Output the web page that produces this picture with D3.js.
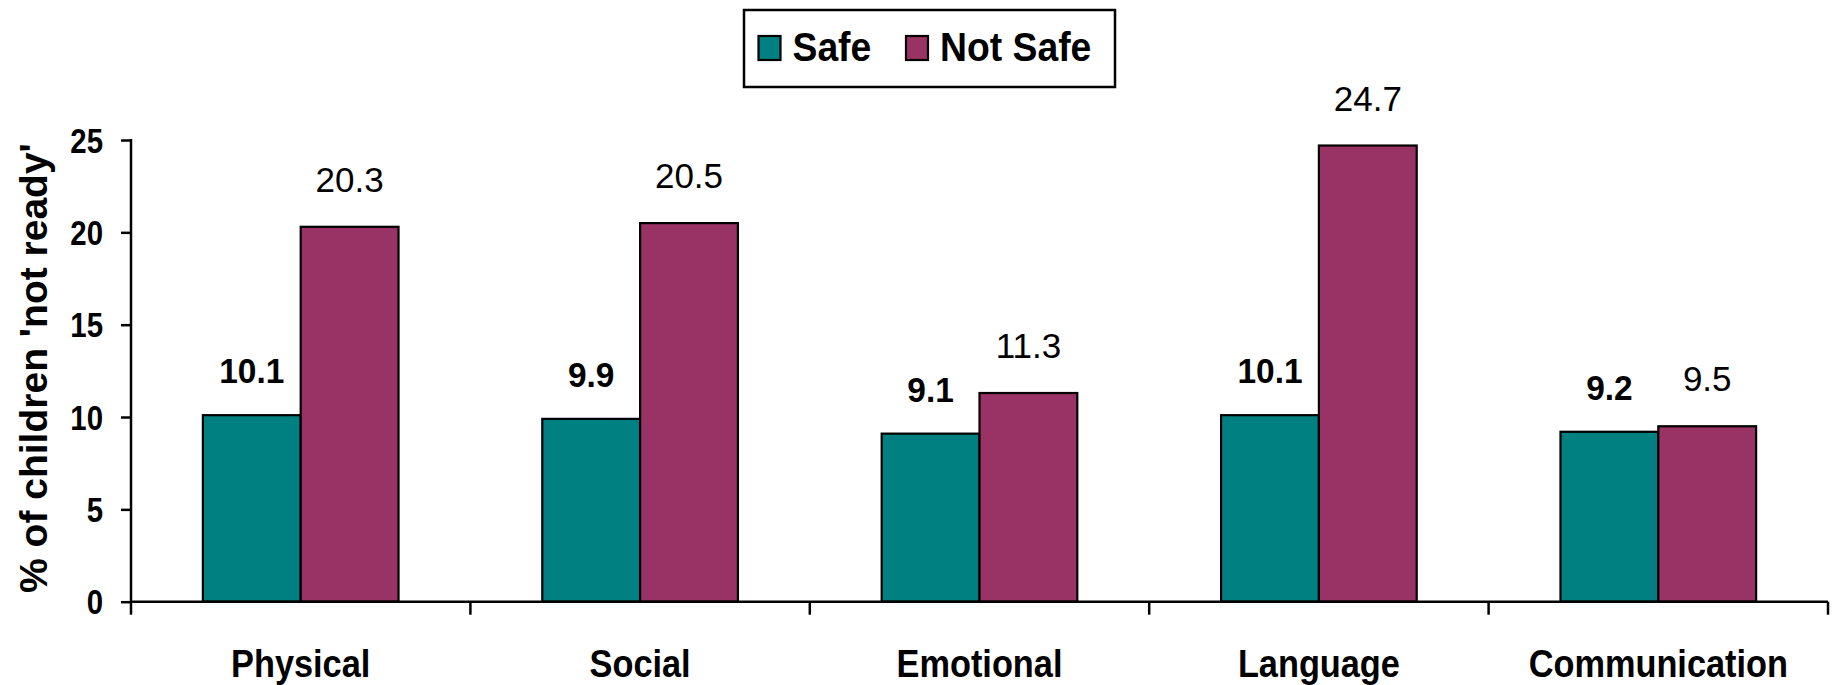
<!DOCTYPE html>
<html>
<head>
<meta charset="utf-8">
<script src="https://cdn.jsdelivr.net/npm/d3@7"></script>
<style>
    body { margin: 0; background: #fff; }
    svg { display: block; }
    text { font-family: "Liberation Sans", Arial, sans-serif; fill: #000; }
</style>
</head>
<body>
<div id="chart-area"></div>
<script>

// Data
var categories = ["Physical", "Social", "Emotional", "Language", "Communication"];
var seriesNames = ["Safe", "Not Safe"];
var safeValues = [10.1, 9.9, 9.1, 10.1, 9.2];
var notSafeValues = [20.3, 20.5, 11.3, 24.7, 9.5];
var yTicks = [0, 5, 10, 15, 20, 25];
var colors = ["#008080", "#993366"];

// SVG Size
var width = 1837,
    height = 685;

var plotLeft = 131,
    plotRight = 1828,
    plotTop = 140,
    plotBottom = 601.7;

var rows = categories.map(function (c, i) {
    return { category: c, values: [safeValues[i], notSafeValues[i]] };
});

var svg = d3.select("#chart-area").append("svg")
    .attr("width", width)
    .attr("height", height);

// squeeze text horizontally, like the narrow font in the original
function placeText(sel, x, y, k) {
    sel.attr("x", 0).attr("y", 0)
        .attr("transform", "translate(" + x + "," + y + ") scale(" + k + ",1)");
}

var x0 = d3.scaleBand()
    .domain(categories)
    .range([plotLeft, plotRight]);

var x1 = d3.scaleBand()
    .domain(seriesNames)
    .range([0, x0.bandwidth()])
    .paddingOuter(0.735);

var y = d3.scaleLinear()
    .domain([0, 25])
    .range([plotBottom, plotTop]);

var color = d3.scaleOrdinal()
    .domain(seriesNames)
    .range(colors);

// Bars
var groups = svg.selectAll("g.group")
    .data(rows)
    .enter()
    .append("g")
    .attr("class", "group")
    .attr("transform", function (d) { return "translate(" + x0(d.category) + ",0)"; });

groups.selectAll("rect")
    .data(function (d) {
        return d.values.map(function (v, i) { return { name: seriesNames[i], value: v }; });
    })
    .enter()
    .append("rect")
    .attr("x", function (d) { return x1(d.name); })
    .attr("y", function (d) { return y(d.value); })
    .attr("width", x1.bandwidth())
    .attr("height", function (d) { return y(0) - y(d.value); })
    .attr("fill", function (d) { return color(d.name); })
    .attr("stroke", "#000")
    .attr("stroke-width", 2.2);

// Value labels
groups.selectAll("text.value")
    .data(function (d) {
        return d.values.map(function (v, i) { return { name: seriesNames[i], value: v }; });
    })
    .enter()
    .append("text")
    .attr("class", "value")
    .attr("text-anchor", "middle")
    .attr("font-size", function (d) { return d.name === "Safe" ? "36px" : "35px"; })
    .attr("font-weight", function (d) { return d.name === "Safe" ? "bold" : "normal"; })
    .text(function (d) { return d3.format(".1f")(d.value); })
    .each(function (d) {
        var bold = d.name === "Safe";
        placeText(d3.select(this),
            x1(d.name) + x1.bandwidth() / 2,
            y(d.value) - (bold ? 32 : 35),
            bold ? 0.93 : 1);
    });

// Y axis
var yAxis = d3.axisLeft(y)
    .tickValues(yTicks)
    .tickSize(10)
    .tickPadding(18);

var yG = svg.append("g")
    .attr("class", "axis y-axis")
    .attr("transform", "translate(" + plotLeft + ",0)")
    .call(yAxis);

yG.select(".domain").remove();
yG.selectAll("line").attr("stroke", "#000").attr("stroke-width", 2.5);
// tick groups are already translated, so labels sit relative to the tick
yG.selectAll("text")
    .attr("font-size", "35px")
    .attr("font-weight", "bold")
    .attr("font-family", "Liberation Sans, Arial, sans-serif")
    .attr("fill", "#000")
    .attr("dy", null)
    .each(function () {
        placeText(d3.select(this), -28, 12, 0.84);
    });

svg.append("line")
    .attr("x1", plotLeft).attr("x2", plotLeft)
    .attr("y1", y(25) - 1).attr("y2", plotBottom)
    .attr("stroke", "#000").attr("stroke-width", 2.5);

// X axis line and category boundary ticks
svg.append("line")
    .attr("x1", plotLeft).attr("x2", plotRight)
    .attr("y1", plotBottom).attr("y2", plotBottom)
    .attr("stroke", "#000").attr("stroke-width", 2.5);

var bounds = categories.map(function (c) { return x0(c); }).concat([plotRight]);
svg.selectAll("line.xtick")
    .data(bounds)
    .enter()
    .append("line")
    .attr("class", "xtick")
    .attr("x1", function (d) { return d; })
    .attr("x2", function (d) { return d; })
    .attr("y1", plotBottom)
    .attr("y2", plotBottom + 13)
    .attr("stroke", "#000").attr("stroke-width", 2.5);

svg.selectAll("text.xlabel")
    .data(categories)
    .enter()
    .append("text")
    .attr("class", "xlabel")
    .attr("text-anchor", "middle")
    .attr("font-size", "39px")
    .attr("font-weight", "bold")
    .text(function (d) { return d; })
    .each(function (d) {
        placeText(d3.select(this), x0(d) + x0.bandwidth() / 2, 676.5, 0.88);
    });

// Y label
svg.append("text")
    .attr("class", "y label")
    .attr("text-anchor", "middle")
    .attr("font-size", "39px")
    .attr("font-weight", "bold")
    .attr("transform", "translate(47,368) rotate(-90)")
    .text("% of children 'not ready'");

// Legend
var legend = svg.append("g").attr("class", "legend");

legend.append("rect")
    .attr("x", 744).attr("y", 10)
    .attr("width", 371).attr("height", 77)
    .attr("fill", "#fff")
    .attr("stroke", "#000")
    .attr("stroke-width", 2.5);

var legendOffsets = [0, 147.5];

var items = legend.selectAll("g.item")
    .data(seriesNames)
    .enter()
    .append("g")
    .attr("class", "item")
    .attr("transform", function (d, i) { return "translate(" + (758.5 + legendOffsets[i]) + ",0)"; });

items.append("rect")
    .attr("x", 0).attr("y", 36)
    .attr("width", 22).attr("height", 24)
    .attr("fill", function (d) { return color(d); })
    .attr("stroke", "#000")
    .attr("stroke-width", 2.2);

items.append("text")
    .attr("font-size", "41px")
    .attr("font-weight", "bold")
    .text(function (d) { return d; })
    .each(function () {
        placeText(d3.select(this), 34, 61, 0.91);
    });

</script>
</body>
</html>
